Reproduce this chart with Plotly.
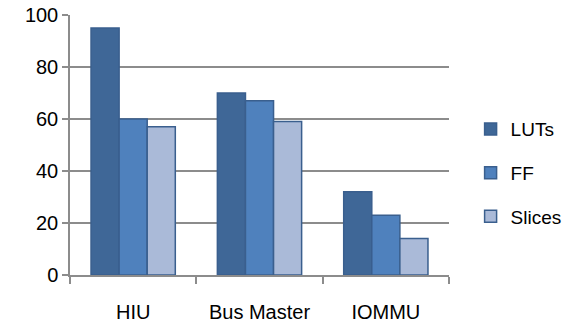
import plotly.graph_objects as go

categories = ["HIU", "Bus Master", "IOMMU"]
luts = [95, 70, 32]
ff = [60, 67, 23]
slices = [57, 59, 14]
y_ticks = [0, 20, 40, 60, 80, 100]

series = [
    ("LUTs", luts, "#3F6797"),
    ("FF", ff, "#4F81BD"),
    ("Slices", slices, "#AABAD8"),
]

fig = go.Figure()
for name, vals, col in series:
    fig.add_trace(go.Bar(
        x=categories,
        y=vals,
        name=name,
        legendgroup=name,
        marker=dict(color=col, line=dict(color="#3A5F8E", width=1.5)),
    ))

fig.update_layout(
    width=566,
    height=328,
    margin=dict(l=70, r=117, t=15, b=53, autoexpand=False),
    barmode="group",
    bargap=0.333,
    bargroupgap=0,
    plot_bgcolor="white",
    paper_bgcolor="white",
    font=dict(family="Liberation Sans", size=20, color="black"),
    legend=dict(
        x=1.057,
        xanchor="left",
        y=0.392,
        yanchor="middle",
        traceorder="grouped",
        tracegroupgap=16,
        font=dict(size=19),
        itemwidth=30,
    ),
)

fig.update_xaxes(
    showline=True,
    linecolor="#8C8C8C",
    linewidth=1.5,
    ticks="outside",
    tickson="boundaries",
    ticklen=7,
    tickcolor="#8C8C8C",
    tickwidth=1.5,
    ticklabelstandoff=18,
    showgrid=False,
)

fig.update_yaxes(
    range=[0, 100],
    tickvals=y_ticks,
    showline=True,
    linecolor="#8C8C8C",
    linewidth=1.5,
    ticks="outside",
    ticklen=6,
    tickcolor="#8C8C8C",
    tickwidth=1.5,
    ticklabelstandoff=0,
    showgrid=True,
    gridcolor="#8C8C8C",
    gridwidth=1.5,
    zeroline=False,
)

# the page has a default body margin; drop it so the figure fills the window
fig.write_html(
    "out.html",
    config={"displayModeBar": False},
    post_script="document.body.style.margin='0';",
)
